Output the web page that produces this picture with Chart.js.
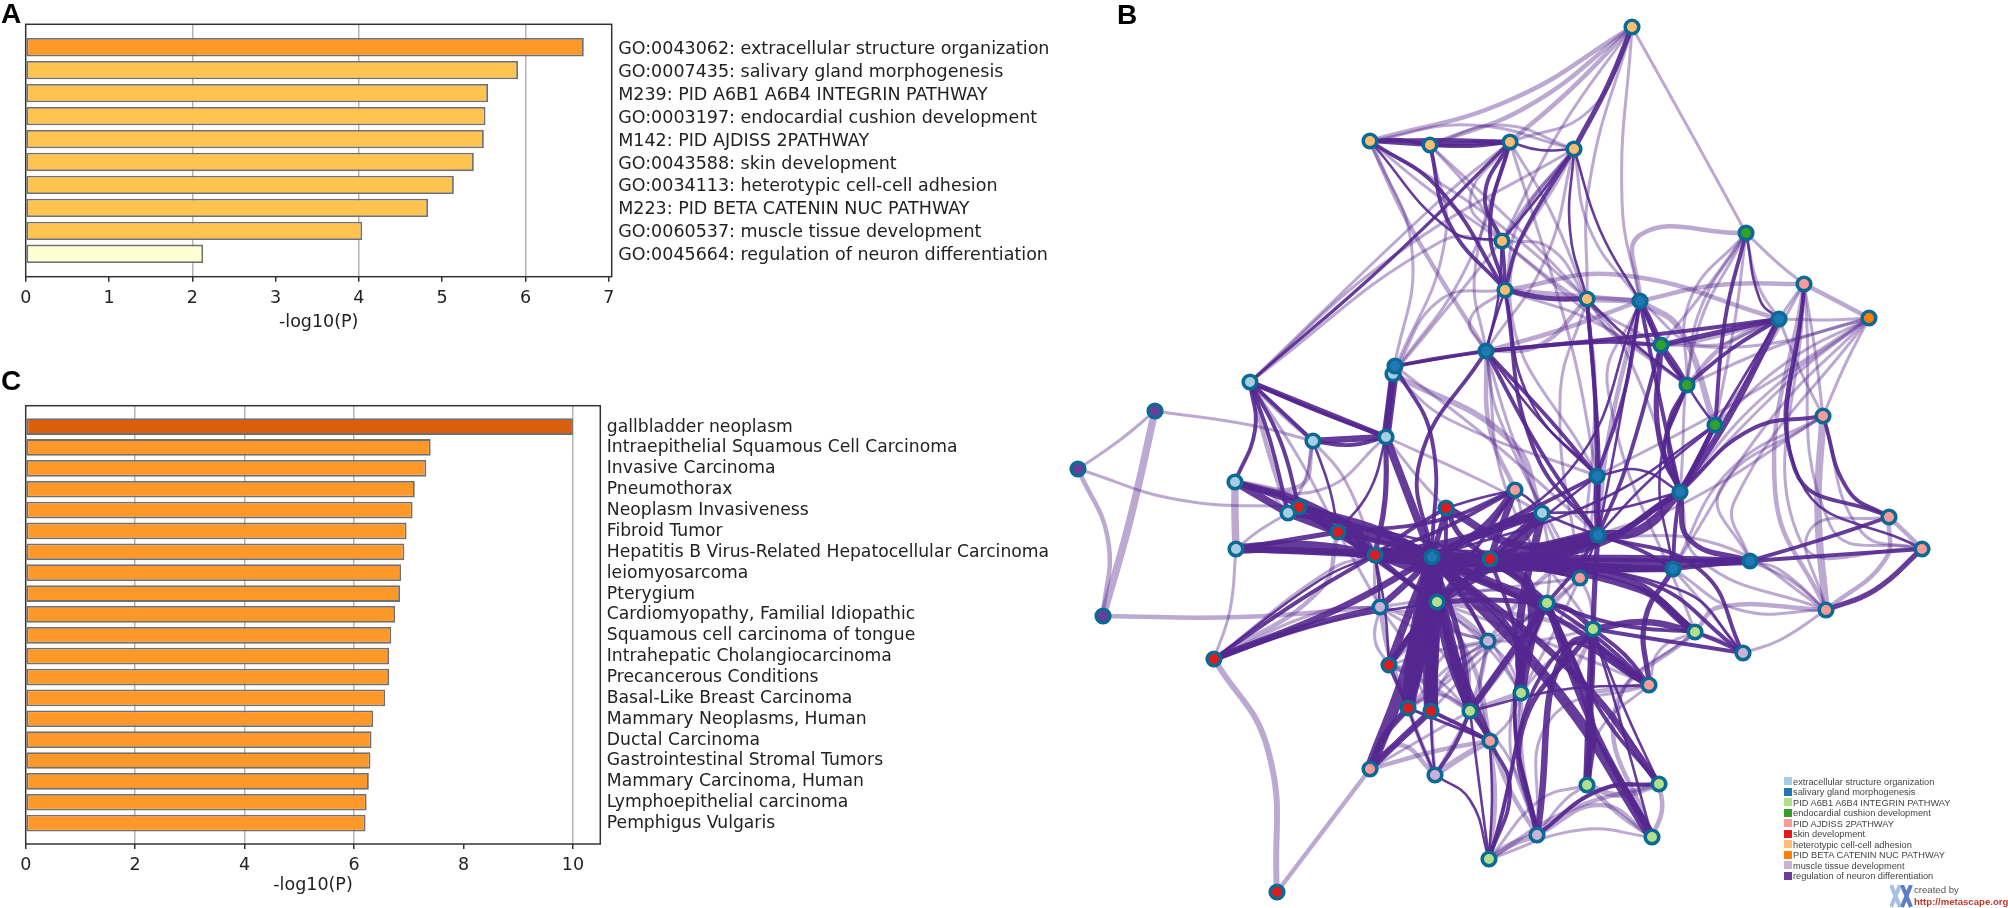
<!DOCTYPE html>
<html lang="en">
<head>
<meta charset="UTF-8">
<title>Enrichment bars and term network</title>
<script src="https://cdn.jsdelivr.net/npm/chart.js@4/dist/chart.umd.js"></script>
<style>
    html, body { margin: 0; padding: 0; background: #fff; }
    body { position: relative; width: 2008px; height: 908px; overflow: hidden; }
    .panel { position: absolute; }
    .letter { position: absolute; font: bold 28px "Liberation Sans", sans-serif; color: #000; line-height: 28px; }
    #legendB { position: absolute; left: 1784px; top: 776.5px; font: 9.25px "Liberation Sans", sans-serif; color: #444; }
    #legendB div { height: 10.5px; line-height: 10.5px; white-space: nowrap; }
    #legendB i { display: inline-block; width: 8px; height: 8px; margin-right: 1px; vertical-align: -0.5px; }
    #logoText { position: absolute; left: 1914px; top: 884px; font: 9.6px/12px "Liberation Sans", sans-serif; color: #555; white-space: nowrap; }
    #logoText b { color: #c0392b; }
    #logoIcon { position: absolute; left: 1890px; top: 885px; }
</style>
</head>
<body>
<div class="panel" style="left:0;top:0;width:1060px;height:333px"><canvas id="chartA"></canvas></div>
<div class="panel" style="left:0;top:360px;width:1060px;height:536px"><canvas id="chartC"></canvas></div>
<div class="panel" style="left:1060px;top:0;width:948px;height:908px"><canvas id="chartB"></canvas></div>
<div class="letter" style="left:1px;top:0">A</div>
<div class="letter" style="left:1117px;top:1px">B</div>
<div class="letter" style="left:1px;top:367px">C</div>
<div id="legendB"></div>
<svg id="logoIcon" width="24" height="23">
    <path d="M1 0 L10 22 M10 0 L1 22" stroke="#a9bfe6" stroke-width="4" fill="none"/>
    <path d="M12 0 L21 22 M21 0 L12 22" stroke="#5b7fc4" stroke-width="4" fill="none"/>
</svg>
<div id="logoText">created by<br><b>http://metascape.org</b></div>

<script>
// panel A
const termsA = ['GO:0043062: extracellular structure organization', 'GO:0007435: salivary gland morphogenesis',
    'M239: PID A6B1 A6B4 INTEGRIN PATHWAY', 'GO:0003197: endocardial cushion development', 'M142: PID AJDISS 2PATHWAY',
    'GO:0043588: skin development', 'GO:0034113: heterotypic cell-cell adhesion', 'M223: PID BETA CATENIN NUC PATHWAY',
    'GO:0060537: muscle tissue development', 'GO:0045664: regulation of neuron differentiation'];
const valuesA = [6.70, 5.91, 5.55, 5.52, 5.50, 5.38, 5.14, 4.83, 4.04, 2.13];
const colorsA = ['#fe9929', '#fec44f', '#fec44f', '#fec44f', '#fec44f', '#fec44f', '#fec44f', '#fec44f', '#fec44f', '#ffffd4'];
const gridA = [2, 4, 6];

// panel C
const termsC = ['gallbladder neoplasm', 'Intraepithelial Squamous Cell Carcinoma', 'Invasive Carcinoma', 'Pneumothorax',
    'Neoplasm Invasiveness', 'Fibroid Tumor', 'Hepatitis B Virus-Related Hepatocellular Carcinoma', 'leiomyosarcoma', 'Pterygium',
    'Cardiomyopathy, Familial Idiopathic', 'Squamous cell carcinoma of tongue', 'Intrahepatic Cholangiocarcinoma',
    'Precancerous Conditions', 'Basal-Like Breast Carcinoma', 'Mammary Neoplasms, Human', 'Ductal Carcinoma',
    'Gastrointestinal Stromal Tumors', 'Mammary Carcinoma, Human', 'Lymphoepithelial carcinoma', 'Pemphigus Vulgaris'];
const valuesC = [10.0, 7.40, 7.32, 7.11, 7.07, 6.96, 6.92, 6.86, 6.84, 6.75, 6.68, 6.64, 6.64, 6.57, 6.35, 6.32, 6.30, 6.27, 6.23, 6.21];
const colorsC = ['#d95f0e'].concat(Array(19).fill('#fe9929'));
const gridC = [2, 4, 6, 10];

// panel B, groups
const groupNames = ['extracellular structure organization', 'salivary gland morphogenesis', 'PID A6B1 A6B4 INTEGRIN PATHWAY',
    'endocardial cushion development', 'PID AJDISS 2PATHWAY', 'skin development', 'heterotypic cell-cell adhesion',
    'PID BETA CATENIN NUC PATHWAY', 'muscle tissue development', 'regulation of neuron differentiation'];
const groupColors = ['#a6cee3', '#1f78b4', '#b2df8a', '#33a02c', '#fb9a99', '#e31a1c', '#fdbf6f', '#ff7f00', '#cab2d6', '#6a3d9a'];

// panel B, nodes (in picture pixels)
const nodeX = [1632, 1370, 1430, 1510, 1574, 1502, 1505, 1587, 1640, 1746, 1804, 1869, 1779, 1486, 1393, 1395, 1250, 1155, 1313, 1386,
    1661, 1687, 1715, 1823, 1515, 1597, 1680, 1542, 1598, 1889, 1922, 1750, 1673, 1580, 1547, 1826, 1593, 1695, 1743, 1649,
    1521, 1587, 1659, 1537, 1652, 1489, 1078, 1103, 1235, 1299, 1288, 1236, 1338, 1375, 1432, 1446, 1490, 1380, 1437, 1488,
    1214, 1389, 1408, 1431, 1470, 1490, 1370, 1435, 1277];
const nodeY = [27, 141, 145, 142, 149, 241, 290, 299, 301, 233, 284, 318, 319, 351, 374, 366, 382, 411, 441, 437,
    345, 385, 425, 416, 490, 476, 492, 513, 535, 517, 549, 561, 569, 578, 603, 610, 629, 632, 653, 685,
    693, 785, 784, 835, 837, 859, 469, 616, 482, 507, 513, 549, 532, 555, 557, 508, 559, 607, 602, 641,
    659, 665, 708, 711, 711, 741, 769, 775, 892];
const nodeGroup = [6, 6, 6, 6, 6, 6, 6, 6, 1, 3, 4, 7, 1, 1, 0, 1, 0, 9, 0, 0,
    3, 3, 3, 4, 4, 1, 1, 0, 1, 4, 4, 1, 1, 4, 2, 4, 2, 2, 8, 4,
    2, 2, 2, 8, 2, 2, 9, 9, 0, 5, 0, 0, 5, 5, 1, 5, 5, 8, 2, 8,
    5, 5, 5, 5, 2, 4, 4, 8, 5];

// panel B, edges: from, to, width, then an optional point the line bends through
const lightEdges = [
    [0,1,3,1510,100], [0,2,3,1530,105], [0,3,3,1570,90], [0,3,2,1590,110], [0,5,2,1560,130], [0,8,2,1622,200], [0,9,2,1695,140], [0,7,2,1590,180],
    [1,4,2,1470,125], [1,7,2,1480,210], [1,13,3,1410,226], [1,14,2,1412,250], [1,5,2,1430,190], [2,7,2,1510,220], [2,14,2,1445,240], [2,5,2,1470,190], [2,4,2,1500,125],
    [3,5,2,1470,200], [3,7,2,1550,210], [3,13,2,1475,270], [3,14,2,1465,270], [3,16,2,1440,200], [3,25,2,1570,340],
    [4,5,2,1530,200], [4,8,2,1590,230], [4,13,2,1545,260], [4,6,2,1520,220], [4,14,2,1470,280], [4,25,2,1510,300],
    [16,4,2,1395,255], [16,5,2,1440,242], [5,7,2,1550,248], [6,8,3,1580,296], [6,12,3,1620,275], [6,13,2,1470,320], [6,14,2,1440,300], [7,8,4,1615,300],
    [7,26,2,1625,350], [7,13,3,1540,345], [5,21,2,1610,330], [5,20,2,1580,300], [7,20,2,1620,340], [6,21,2,1600,325],
    [8,22,4,1680,330], [8,12,2,1700,345], [8,9,3,1640,235], [8,10,3,1717,285], [8,37,2,1608,390], [7,33,2,1560,400], [7,33,2,1595,400], [8,28,3,1608,440],
    [9,10,2,1780,265], [9,12,2,1758,285], [9,21,2,1700,310], [9,21,2,1690,300], [9,26,2,1695,340], [9,20,2,1705,290], [9,22,2,1735,320],
    [10,11,3,1835,300], [10,12,2,1792,300], [10,23,2,1815,350], [10,35,3,1775,490], [10,22,2,1760,360], [10,30,2,1800,540],
    [11,12,2,1825,320], [11,22,2,1790,360], [11,21,2,1780,345], [11,26,2,1760,400], [11,26,2,1790,380], [11,31,2,1735,500], [11,32,2,1770,420], [11,20,2,1760,345], [11,23,2,1845,365], [11,25,2,1740,400],
    [12,20,3,1700,340], [12,21,3,1725,345], [12,23,2,1800,370], [23,32,2,1730,470], [23,35,5,1818,510], [23,31,2,1720,490], [23,28,2,1690,500], [23,30,2,1860,530],
    [29,35,3,1885,560], [29,30,3,1905,532], [29,35,2,1810,530], [30,10,2,1830,525], [35,31,2,1790,580], [35,31,2,1780,570], [35,37,3,1720,607], [35,26,2,1700,560], [35,28,2,1720,545],
    [14,27,4,1510,440], [13,24,3,1490,430], [13,27,2,1510,430], [13,33,2,1500,420], [14,25,2,1450,420], [15,28,2,1490,440], [13,8,3,1560,330], [13,36,2,1510,500],
    [16,18,3,1280,412], [16,52,2,1300,460], [16,50,3,1268,450], [17,18,2,1250,425], [17,46,2,1120,440], [17,47,5,1130,520], [46,49,2,1180,500], [46,47,3,1108,540],
    [47,57,3,1240,617], [48,51,5,1235,515], [48,18,3,1300,486], [48,50,2,1270,495], [48,19,2,1320,490], [51,60,2,1230,610], [51,49,2,1260,530], [18,50,2,1305,480], [18,53,2,1345,480], [19,55,2,1420,480], [19,27,2,1480,480],
    [60,68,4,1268,750], [60,52,3,1320,590], [60,53,2,1330,570], [60,57,2,1320,612], [68,66,3], [57,62,3,1388,650], [57,59,2,1450,630], [57,58,2,1420,612], [57,33,2,1490,590],
    [53,57,2,1375,590], [52,57,2,1365,580], [61,57,2,1375,640], [61,59,2,1440,650], [61,64,3,1420,680], [62,59,2,1445,670], [62,64,2,1440,695],
    [58,59,3,1465,620], [58,65,3,1475,670], [58,40,2,1490,650], [58,39,2,1540,640], [58,36,3,1520,615], [59,64,3,1480,680], [59,40,2,1510,665], [59,36,2,1540,640], [59,33,2,1540,610], [59,65,2,1480,690], [59,62,2,1450,680],
    [64,40,3,1500,700], [64,43,2,1510,760], [40,43,3,1522,760], [40,45,2,1510,780], [40,65,2,1510,720], [40,36,2,1550,660], [34,43,2,1510,730], [34,64,3,1510,660], [34,40,2,1525,650],
    [66,65,3,1440,750], [66,67,3,1400,745], [66,63,2,1400,740], [66,62,2,1385,735], [66,64,2,1420,740], [67,65,4,1465,755], [67,62,3,1420,740], [67,64,2,1455,740], [67,63,2,1433,745],
    [62,65,2,1450,725], [63,65,2,1460,725], [65,45,3,1495,800], [65,43,3,1510,790], [45,43,4,1510,845], [45,42,3,1570,810], [45,41,2,1540,800], [45,44,2,1580,830],
    [41,42,4,1620,795], [41,44,3,1620,815], [42,44,3,1662,810], [43,44,3,1600,805], [43,42,3,1600,790], [43,41,2,1565,800], [41,39,2,1600,730], [43,39,2,1550,720],
    [39,36,3,1578,685], [39,37,2,1660,650], [44,37,3,1615,710], [42,37,2,1620,700], [38,37,2,1720,640], [36,33,2,1590,600], [38,35,2,1780,640], [32,35,2,1740,610],
    [32,38,2,1700,600], [28,59,3,1530,590], [33,40,2,1550,640], [24,33,2,1540,560], [27,33,2,1560,550], [27,34,2,1550,560], [25,33,2,1590,530], [34,58,2,1490,590],
    [54,59,2,1470,610], [54,59,2,1450,625], [58,64,2,1450,645], [58,64,2,1465,650], [59,63,2,1450,670], [59,63,2,1440,660], [54,40,2,1490,640], [58,61,2,1415,640],
    [61,63,2,1415,680], [61,64,2,1430,675], [53,59,2,1430,600], [57,64,2,1440,650], [57,63,2,1415,660], [62,34,2,1470,660], [63,34,2,1490,650], [64,33,2,1520,640]
];
const darkEdges = [
    [0,4,4,1608,85], [4,5,2,1540,195], [4,6,3,1520,240], [4,7,2,1570,230],
    [1,2,3], [1,2,3,1400,140], [1,3,3,1440,140], [2,3,4,1470,143], [2,3,3,1470,146], [3,4,2,1540,150],
    [1,6,3,1440,190], [1,5,2,1450,230], [2,6,3,1450,225], [3,5,3,1485,195], [3,6,3,1490,225], [5,6,3,1504,265], [5,13,2,1498,300], [6,13,2,1495,320], [16,3,2.5,1390,260],
    [6,7,4,1545,298], [6,28,3,1533,447], [6,25,2,1530,400], [4,8,2,1600,230], [7,25,3,1595,400], [7,28,3,1598,440], [7,21,2,1630,340],
    [13,15,3,1440,358], [13,20,3,1600,342], [13,12,3,1650,335], [20,12,4,1720,332], [13,54,3,1420,460], [13,28,3,1540,450], [13,25,2,1540,420], [15,54,3,1432,440], [15,19,7], [14,19,5], [15,13,2],
    [16,19,4], [16,19,3,1320,412], [16,18,3], [16,48,3,1255,430], [16,50,3,1270,440], [16,49,3,1280,440], [18,19,5], [18,19,3,1350,445],
    [19,54,6,1410,500], [19,53,4,1385,500], [19,52,2,1370,490],
    [48,50,6], [48,52,5,1300,505], [48,53,5,1320,510], [49,52,7], [49,53,5,1350,525], [49,54,5,1380,530], [50,52,6], [50,54,4,1370,530], [18,52,2,1330,490],
    [51,53,8,1305,546], [51,52,4,1290,540], [51,54,5,1340,552], [51,53,4,1300,552],
    [52,53,7], [52,54,8,1390,540], [53,54,12], [54,56,13], [56,28,10,1545,548], [54,28,8,1530,565], [54,31,6,1600,565], [56,31,5,1620,558], [54,32,5,1560,568], [56,32,4,1590,565],
    [53,56,6,1430,570], [52,56,4,1420,550], [53,28,5,1490,570], [50,56,2,1400,535],
    [55,54,4,1440,530], [55,56,4,1460,535], [55,28,6,1520,545], [55,53,3,1410,530], [24,56,5,1500,530], [24,54,5,1480,530], [24,52,3,1440,520], [24,55,2,1480,498], [24,27,2,1530,500],
    [27,54,6,1490,530], [27,56,5,1515,535], [27,53,6,1460,540], [27,28,2,1570,525], [24,53,3,1440,530],
    [25,28,5,1597,505], [25,54,3,1510,520], [25,26,2,1640,470], [25,8,3,1625,390], [25,13,3,1550,420], [25,56,2,1540,520],
    [26,12,5,1727,420], [26,28,7,1640,530], [26,54,5,1580,550], [26,21,3,1668,430], [26,31,4,1690,540], [26,22,3,1695,465], [26,56,4,1600,540], [26,27,2,1610,510],
    [8,20,4,1650,320], [8,21,3,1665,355], [8,26,3,1660,400], [8,28,2,1620,420], [8,54,2,1570,470], [20,21,4,1675,365], [20,26,4,1658,430], [20,28,3,1625,470], [21,26,3,1664,450], [21,22,2,1700,405], [21,32,2,1660,470],
    [21,12,3,1730,350], [22,12,2,1745,375], [22,26,4,1695,465], [23,26,3,1750,430], [22,28,2,1650,480], [22,54,2,1600,500], [9,22,3,1725,320], [9,12,2,1760,300],
    [10,29,3,1795,470], [10,30,2,1800,480], [23,29,3,1848,490], [29,31,3,1820,540], [30,31,3], [30,35,4,1875,590],
    [26,32,3,1675,530], [28,32,3,1640,550], [32,54,3,1540,570], [31,32,3,1710,565], [31,56,3,1620,560], [38,28,3,1700,570], [38,54,3,1640,580], [38,56,2,1680,590],
    [36,37,5,1645,622], [36,38,3,1660,640], [37,38,3,1720,642], [37,34,3,1620,625], [36,34,4,1570,610], [33,54,2,1510,565], [33,56,2,1540,570], [33,28,2,1590,555],
    [39,36,3,1625,655], [39,32,4,1645,620], [39,54,4,1560,620], [39,34,3,1600,640], [39,64,2,1560,690],
    [44,54,8,1560,695], [42,54,5,1580,680], [41,34,6,1590,715], [41,36,3,1590,710], [44,34,5,1590,720], [42,34,3,1600,710], [43,36,4,1522,730], [43,34,2,1515,700], [42,43,3,1600,790], [45,65,2,1492,800],
    [45,65,3,1510,790], [45,64,2,1480,790], [45,67,2,1470,800],
    [34,54,8,1495,585], [34,56,5,1520,580], [34,64,5,1510,655], [34,58,4,1490,600], [34,28,3,1575,570],
    [40,54,5,1517,640], [40,56,3,1515,630], [40,34,4,1520,650], [59,54,3,1465,600],
    [58,54,8], [58,63,10,1432,660], [58,62,9,1420,660], [58,64,6,1450,660], [58,61,4,1410,635], [54,63,11,1430,640], [54,62,10,1415,640], [54,64,8,1450,640], [54,66,9,1410,660], [54,65,5,1450,640], [63,66,5,1400,740], [62,66,5,1385,735],
    [64,65,3,1480,725], [63,65,3,1460,725], [62,65,2,1450,725], [67,63,2,1432,745], [67,62,2,1420,740], [67,64,3,1455,745], [64,54,4,1460,640],
    [61,54,6,1410,610], [61,58,5,1415,630], [61,62,3,1400,690], [57,54,5,1410,580], [57,53,2,1378,580], [60,54,5,1340,608], [60,53,3,1300,600], [60,57,4,1300,628], [60,58,2,1330,622], [60,53,2,1320,580],
    [53,58,4,1405,580], [52,58,3,1390,570], [56,58,4,1465,580], [53,61,2,1385,610], [55,58,3,1445,555], [24,58,3,1475,550],
    [44,36,2,1620,720], [42,36,2,1625,710],
    [54,37,6,1620,578], [56,37,5,1640,590], [36,41,6,1590,700], [36,28,4,1595,580], [39,43,5,1570,645], [39,45,3,1560,650], [40,27,6,1520,620], [40,56,8,1530,590], [34,43,3,1515,700], [27,58,8,1510,550], [62,54,6,1425,640], [63,54,6,1435,650]
];

// frame round the plot area
const frame = {
    id: 'frame',
    afterDatasetsDraw(chart) {
        const a = chart.chartArea, c = chart.ctx;
        c.save();
        c.strokeStyle = '#333';
        c.lineWidth = 1.5;
        c.strokeRect(a.left, a.top, a.right - a.left, a.bottom - a.top);
        c.restore();
    }
};

function barChart(id, terms, values, colors, gridAt, xMax, xStep, boxW, boxH, left, top, right, bottom, labelSize, labelShift) {
    return new Chart(document.getElementById(id), {
        type: 'bar',
        data: {
            datasets: [{
                data: values.map((v, i) => ({ x: v, y: i + 1 })),
                backgroundColor: colors,
                borderColor: '#707070',
                borderWidth: 1.8,
                borderSkipped: false,
                barPercentage: 0.8,
                categoryPercentage: 1
            }]
        },
        plugins: [frame],
        options: {
            indexAxis: 'y',
            responsive: false,
            animation: false,
            events: [],
            layout: { padding: { left: left, top: top, right: 0, bottom: 0 } },
            plugins: { legend: { display: false }, tooltip: { enabled: false } },
            scales: {
                x: {
                    type: 'linear', min: 0, max: xMax,
                    afterBuildTicks: s => {
                        s.ticks = [];
                        for (let v = 0; v <= xMax; v += xStep) s.ticks.push({ value: v });
                    },
                    ticks: { color: '#222', padding: 6, maxRotation: 0, font: { family: 'DejaVu Sans', size: 17.5 } },
                    grid: {
                        color: ctx => gridAt.includes(ctx.tick.value) ? '#b4b4b4' : 'rgba(0,0,0,0)',
                        lineWidth: 1.5,
                        tickColor: '#333',
                        tickLength: 5
                    },
                    border: { display: false },
                    title: { display: true, text: '-log10(P)', color: '#222', padding: { top: 4, bottom: 0 }, font: { family: 'DejaVu Sans', size: 17.5 } },
                    afterFit: s => { s.height = boxH - bottom; }
                },
                y: {
                    type: 'linear', position: 'right', reverse: true, offset: false, min: 0, max: terms.length + 1,
                    afterBuildTicks: s => { s.ticks = terms.map((t, i) => ({ value: i + 1 })); },
                    ticks: { autoSkip: false, padding: 6.5, labelOffset: labelShift, color: '#222', callback: v => terms[v - 1], font: { family: 'DejaVu Sans', size: labelSize } },
                    grid: { display: false, drawTicks: false, offset: false },
                    border: { display: false },
                    afterFit: s => { s.width = boxW - right; }
                }
            }
        }
    });
}

function setSize(id, w, h) {
    const c = document.getElementById(id);
    c.width = w; c.height = h;
    c.style.width = w + 'px'; c.style.height = h + 'px';
}
setSize('chartA', 1060, 333);
setSize('chartC', 1060, 536);
setSize('chartB', 948, 908);

barChart('chartA', termsA, valuesA, colorsA, gridA, 7.035, 1, 1060, 333, 25.7, 24.3, 611.7, 276.7, 17.5, 2);
barChart('chartC', termsC, valuesC, colorsC, gridC, 10.5, 2, 1060, 536, 25.7, 45.7, 600.3, 484, 17.2, 0.5);

// panel B
function edgeSet(list, color, grow) {
    return list.map(e => {
        const pts = [{ x: nodeX[e[0]], y: nodeY[e[0]] }];
        if (e.length > 3) pts.push({ x: e[3], y: e[4] });
        pts.push({ x: nodeX[e[1]], y: nodeY[e[1]] });
        return { data: pts, showLine: true, tension: 0.45, borderColor: color, borderWidth: e[2] * grow, pointRadius: 0, borderCapStyle: 'round' };
    });
}

new Chart(document.getElementById('chartB'), {
    type: 'scatter',
    data: {
        datasets: [{
            data: nodeX.map((x, i) => ({ x: x, y: nodeY[i] })),
            pointRadius: 6.8,
            pointBackgroundColor: nodeGroup.map(g => groupColors[g]),
            pointBorderColor: '#0b6a93',
            pointBorderWidth: 3.6
        }].concat(edgeSet(darkEdges, 'rgba(84,39,143,0.9)', 1.3), edgeSet(lightEdges, 'rgba(84,39,143,0.4)', 1.5))
    },
    options: {
        responsive: false,
        animation: false,
        events: [],
        layout: { padding: 0, autoPadding: false },
        plugins: { legend: { display: false }, tooltip: { enabled: false } },
        scales: {
            x: { type: 'linear', display: false, min: 1060, max: 2008 },
            y: { type: 'linear', display: false, min: 0, max: 908, reverse: true }
        }
    }
});

// legend list of panel B
document.getElementById('legendB').innerHTML = groupNames.map((n, i) =>
    '<div><i style="background:' + groupColors[i] + '"></i>' + n + '</div>').join('');
</script>
</body>
</html>
